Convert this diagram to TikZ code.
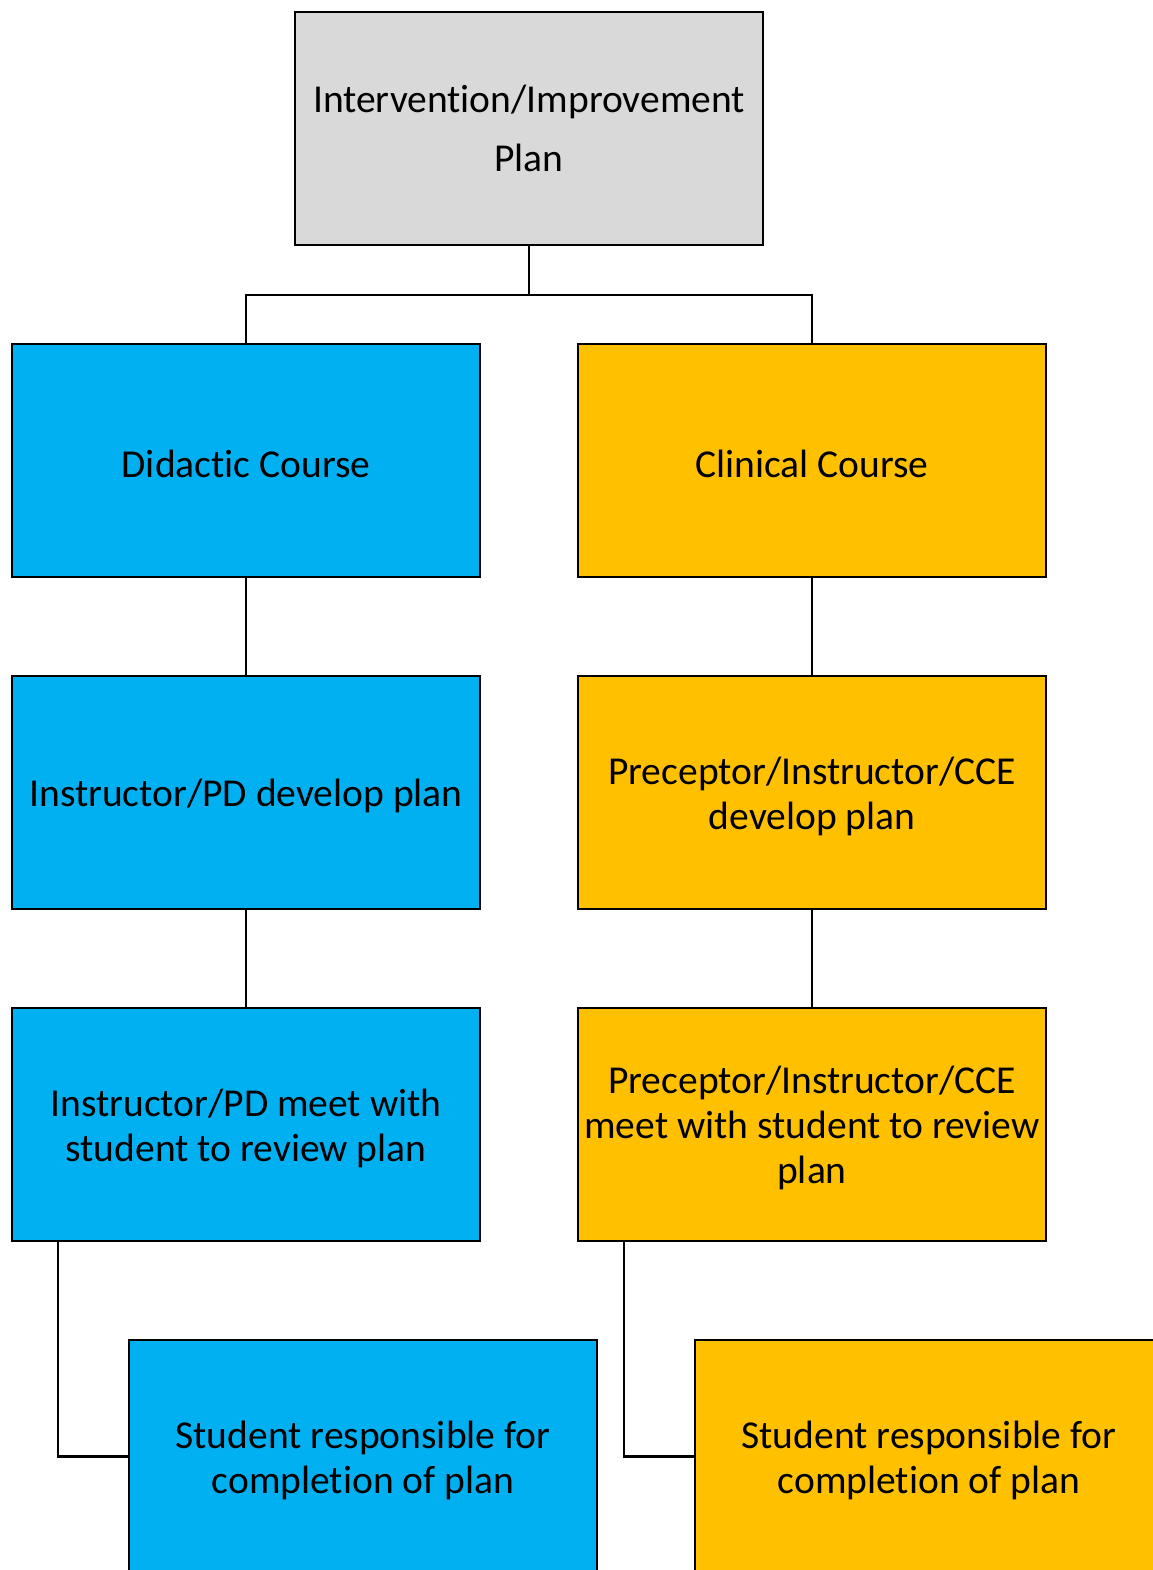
\documentclass[tikz,border=0pt]{standalone}
\usepackage{fontspec}
\setmainfont{Carlito}[Ligatures={NoCommon,NoContextual},Contextuals=NoAlternate]
\usetikzlibrary{positioning}
\definecolor{didactic}{RGB}{0,176,240}
\definecolor{clinical}{RGB}{255,192,0}
\definecolor{planbox}{RGB}{217,217,217}

\tikzset{
  stage/.style={draw=black,line width=1.4pt,minimum width=9.36cm,minimum height=4.66cm,
    align=center,inner sep=1pt,font=\fontsize{22.5}{25.6}\selectfont},
  label/.style={font=\fontsize{22.5}{25.6}\selectfont,align=center,yshift=-2pt},
  link/.style={draw=black,line width=1.3pt}
}

\begin{document}
\begin{tikzpicture}[x=0.02cm,y=-0.02cm]
  \useasboundingbox (0,0) rectangle (1153,1570);
  \clip (0,0) rectangle (1153,1570);

  % top box
  \node[stage,fill=planbox,font=\fontsize{22.5}{34}\selectfont] (plan) at (529,128.5)
    {Intervention/Improvement\\Plan};

  % the two columns
  \foreach \x/\col/\side in {246/didactic/did, 812/clinical/cli}{
    \node[stage,fill=\col] (\side1) at (\x,460.5) {};
    \node[stage,fill=\col] (\side2) at (\x,792.5) {};
    \node[stage,fill=\col] (\side3) at (\x,1124.5) {};
    \node[stage,fill=\col] (\side4) at (\x+117,1456.5) {};
    \node[label] at (\side4) {Student responsible for\\completion of plan};
  }

  % texts
  \node[label] at (did1) {Didactic Course};
  \node[label] at (cli1) {Clinical Course};
  \node[label] at (did2) {Instructor/PD develop plan};
  \node[label] at (cli2) {Preceptor/Instructor/CCE\\develop plan};
  \node[label] at (did3) {Instructor/PD meet with\\student to review plan};
  \node[label] at (cli3) {Preceptor/Instructor/CCE\\meet with student to review\\plan};

  % connectors
  \coordinate (split) at (529,295);
  \draw[link] (plan.south) -- (split) -| (did1.north);
  \draw[link] (split) -| (cli1.north);
  \draw[link] (did1) -- (did2);
  \draw[link] (did2) -- (did3);
  \draw[link] (cli1) -- (cli2);
  \draw[link] (cli2) -- (cli3);
  \draw[link] ([xshift=0.94cm]did3.south west) |- (did4.west);
  \draw[link] ([xshift=0.94cm]cli3.south west) |- (cli4.west);
\end{tikzpicture}
\end{document}
